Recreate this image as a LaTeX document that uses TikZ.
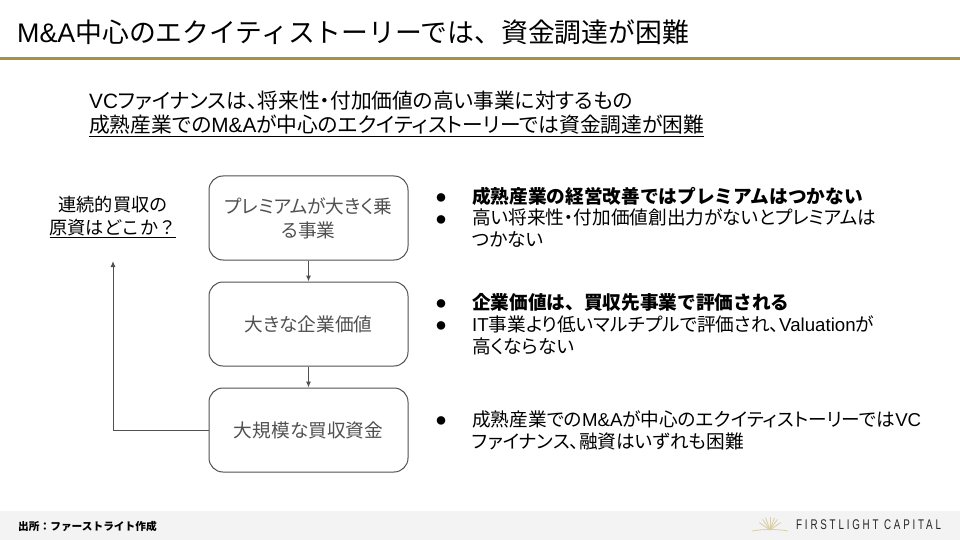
\documentclass[tikz,border=0pt]{standalone}
\usepackage{fontspec}
\setmainfont{Noto Sans CJK JP}
\newfontfamily\paltfont[RawFeature=+palt]{Noto Sans CJK JP}
\newfontfamily\latinfont{Liberation Sans}
\newfontfamily\logofont[LetterSpace=20,FakeStretch=0.7]{Liberation Sans}
\newcommand{\lat}[1]{{\latinfont #1}}
\definecolor{rulegold}{HTML}{A8923F}
\definecolor{boxgray}{HTML}{505050}
\definecolor{footgray}{HTML}{F3F3F3}
\definecolor{suntan}{HTML}{D9CDA6}
\usetikzlibrary{arrows.meta}
\tikzset{
  flowbox/.style={draw=boxgray, line width=1pt, rounded corners=14pt, minimum width=199pt, minimum height=84pt, text=boxgray, align=center, font=\paltfont\fontsize{18.67}{24}\selectfont},
  bodytext/.style={anchor=west, align=left, inner sep=0pt, font=\paltfont\fontsize{18.67}{22}\selectfont},
  boldtext/.style={anchor=west, inner sep=0pt, font=\fontsize{18.67}{22}\selectfont\bfseries},
  flowarrow/.style={draw=boxgray, line width=1pt, -{Latex[length=6pt, width=5pt]}}
}
\begin{document}
\begin{tikzpicture}[x=1pt, y=-1pt]
  \useasboundingbox (0,0) rectangle (960,540);
  % header and footer
  \node[anchor=west, inner sep=0pt, font=\fontsize{26.85}{30}\selectfont] (title) at (17,32) {\lat{M\&A}中心のエクイティストーリーでは、資金調達が困難};
  \fill[rulegold] (0,57) rectangle (960,60.5);
  \fill[footgray] (0,511) rectangle (960,540);
  \node[anchor=west, inner sep=0pt, font=\fontsize{10.7}{12}\selectfont\bfseries] (source) at (18,526) {出所\symbol{"FF1A}ファーストライト作成};
  \node[anchor=west, inner sep=0pt, text=black!85, font=\fontsize{14}{14}\logofont] (logo) at (796,525) {FIRSTLIGHT CAPITAL};
  % logo sun
  \foreach \a in {35,55,70,90,110,125,145}{
    \draw[suntan, line width=0.8pt] (770,530) -- ++(\a:-13);
  }
  \draw[suntan, line width=0.8pt] (752,531) .. controls (762,529) and (778,529) .. (788,531);
  % intro
  \node[bodytext, font=\paltfont\fontsize{20.75}{26}\selectfont] (introa) at (89,101) {\lat{VC}ファイナンスは、将来性・付加価値の高い事業に対するもの};
  \node[bodytext, font=\paltfont\fontsize{20.75}{26}\selectfont] (introb) at (89,126) {\underline{成熟産業での\lat{M\&A}が中心のエクイティストーリーでは資金調達が困難}};
  % flow
  \node[flowbox] (premium) at (308.5,218) {プレミアムが大きく乗\\る事業};
  \node[flowbox] (value) at (308.5,324) {大きな企業価値};
  \node[flowbox] (funds) at (308.5,430) {大規模な買収資金};
  \draw[flowarrow] (premium) -- (value);
  \draw[flowarrow] (value) -- (funds);
  \coordinate (loopend) at (113,261);
  \draw[flowarrow] (funds.west) -| (loopend);
  \node[align=center, inner sep=0pt, font=\fontsize{18.2}{23}\selectfont] (origin) at (113,217) {連続的買収の\\\underline{原資はどこか\symbol{"FF1F}}};
  % bullets
  \foreach \n/\y in {bulleta/198, bulletb/220, bulletc/304, bulletd/326, bullete/421}{
    \node[anchor=center, inner sep=0pt, font=\fontsize{9.5}{12}\selectfont] (\n) at (441,\y) {●};
  }
  \node[boldtext] (texta) at (472,196) {成熟産業の経営改善ではプレミアムはつかない};
  \node[bodytext] (textb) at (472,228.5) {高い将来性・付加価値創出力がないとプレミアムは\\つかない};
  \node[boldtext] (textc) at (472,302) {企業価値は、買収先事業で評価される};
  \node[bodytext] (textd) at (472,335) {\lat{IT}事業より低いマルチプルで評価され、\lat{Valuation}が\\高くならない};
  \node[bodytext] (texte) at (472,430) {成熟産業での\lat{M\&A}が中心のエクイティストーリーでは\lat{VC}\\ファイナンス、融資はいずれも困難};
\end{tikzpicture}
\end{document}
